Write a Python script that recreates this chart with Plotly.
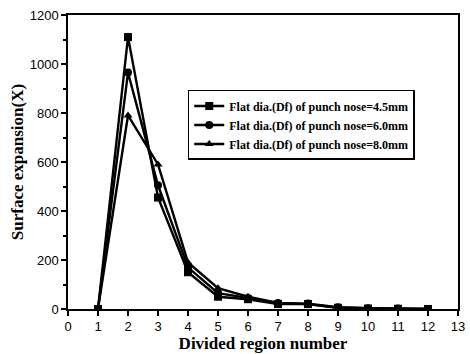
import plotly.graph_objects as go

regions = [1, 2, 3, 4, 5, 6, 7, 8, 9, 10, 11, 12]
df45 = [0, 1110, 455, 150, 50, 40, 20, 20, 5, 2, 1, 0]
df60 = [0, 965, 505, 170, 65, 45, 25, 22, 7, 3, 2, 0]
df80 = [0, 790, 590, 190, 85, 50, 25, 20, 5, 2, 1, 0]
names = ["Flat dia.(Df) of punch nose=4.5mm",
         "Flat dia.(Df) of punch nose=6.0mm",
         "Flat dia.(Df) of punch nose=8.0mm"]
symbols = ["square", "circle", "triangle-up"]

fig = go.Figure()
for ys, nm, sym in zip([df45, df60, df80], names, symbols):
    fig.add_trace(go.Scatter(
        x=regions, y=ys, name="<b>" + nm + "</b>", mode="lines+markers",
        line=dict(color="black", width=2.4),
        marker=dict(symbol=sym, size=8, color="black"),
    ))

axis_common = dict(
    showline=True, linecolor="black", linewidth=1.5, mirror=True,
    ticks="outside", ticklen=5, tickcolor="black", tickwidth=1.5,
    showgrid=False, zeroline=False, automargin=False,
    tickfont=dict(family="Liberation Sans, Arial", size=13, color="black"),
)
title_font = dict(family="Liberation Serif, Times New Roman", size=17, color="black")
fig.update_xaxes(range=[0, 13], dtick=1, tick0=0,
                 title=dict(text="<b>Divided region number</b>", standoff=0, font=title_font),
                 **axis_common)
fig.update_yaxes(range=[0, 1200], dtick=200,
                 minor=dict(dtick=100, ticks="outside", ticklen=3, tickcolor="black"),
                 title=dict(text="<b>Surface expansion(X)</b>", standoff=2, font=title_font),
                 **axis_common)
fig.update_layout(
    width=470, height=354,
    margin=dict(l=68, r=12, t=15, b=45),
    plot_bgcolor="white", paper_bgcolor="white",
    legend=dict(x=0.307, y=0.745, xanchor="left", yanchor="top",
                bordercolor="black", borderwidth=1.5, bgcolor="white",
                font=dict(family="Liberation Serif, Times New Roman", size=12, color="black"),
                itemwidth=30, tracegroupgap=0),
    showlegend=True,
)
fig.write_html("out.html", config={"displayModeBar": False},
               post_script="document.body.style.margin='0';document.body.style.padding='0';")
